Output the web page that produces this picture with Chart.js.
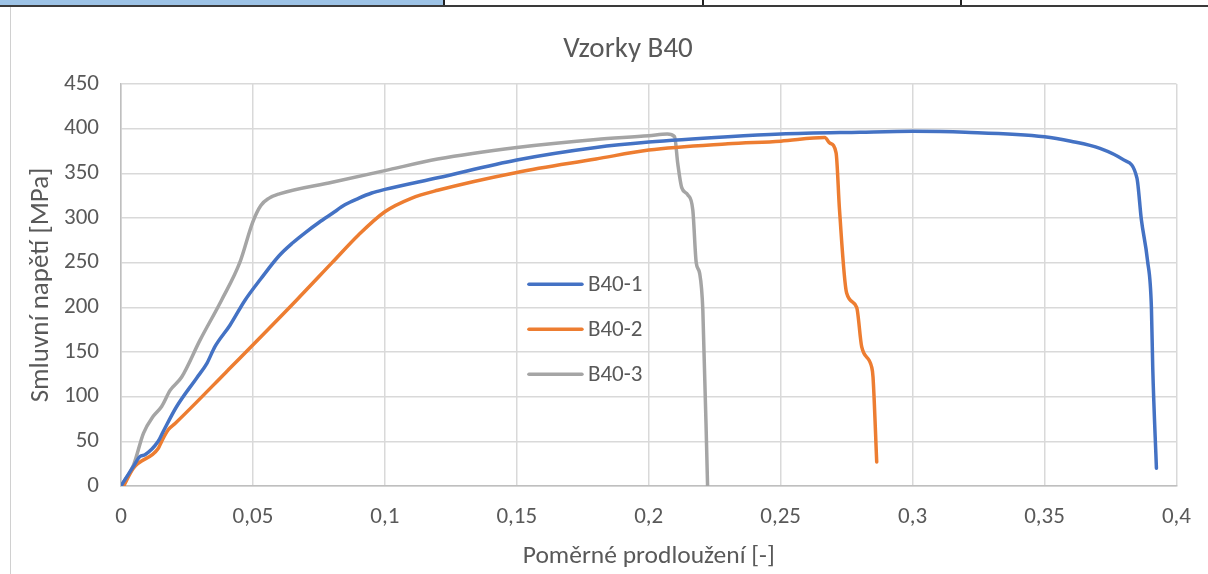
<!DOCTYPE html>
<html>
<head>
<meta charset="utf-8">
<script src="https://cdn.jsdelivr.net/npm/chart.js@4.4.1/dist/chart.umd.min.js"></script>
<style>
  html, body { margin: 0; padding: 0; background: #fff; overflow: hidden; }
  #wrap { position: relative; width: 1208px; height: 574px; }
  .strip { position: absolute; top: 0; height: 5px; }
  #blue { left: 0; width: 443px; background: #9DC3E6; }
  .vb { position: absolute; top: 0; width: 2px; height: 6px; background: #222; }
  #hline { position: absolute; left: 0; top: 5px; width: 1208px; height: 2px; background: #3a3a3a; }
  #frame { position: absolute; left: 10px; top: 7px; width: 1px; height: 567px; background: #D0D0D0; }
  canvas { position: absolute; left: 0; top: 0; }
</style>
</head>
<body>
<div id="wrap">
  <div class="strip" id="blue"></div>
  <div class="vb" style="left:443px"></div>
  <div class="vb" style="left:702px"></div>
  <div class="vb" style="left:960px"></div>
  <div id="hline"></div>
  <div id="frame"></div>
  <canvas id="c" width="1208" height="574"></canvas>
</div>
<script>
const TITLE = 'Vzorky B40';
const X_TITLE = 'Poměrné prodloužení [-]';
const Y_TITLE = 'Smluvní napětí [MPa]';
const SERIES_NAMES = ['B40-1', 'B40-2', 'B40-3'];
const X_TICKS = ['0', '0,05', '0,1', '0,15', '0,2', '0,25', '0,3', '0,35', '0,4'];
const Y_TICKS = ['0', '50', '100', '150', '200', '250', '300', '350', '400', '450'];

const X1 = [0, 0.0047, 0.0072, 0.0091, 0.0141, 0.016, 0.0211, 0.0287, 0.0325, 0.0356, 0.0413, 0.047, 0.053, 0.06, 0.065, 0.07, 0.075, 0.08, 0.085, 0.09, 0.095, 0.1, 0.12, 0.15, 0.18, 0.2, 0.23, 0.25, 0.28, 0.3, 0.32, 0.35, 0.36, 0.371, 0.38, 0.385, 0.3867, 0.389, 0.3905, 0.391, 0.3924];
const Y1 = [0, 22, 33, 35, 50, 61, 89, 121, 137, 156, 180, 208, 232, 258, 272, 284, 295, 305, 315, 322, 328, 332, 345, 365, 379, 385, 391, 394, 396, 397, 396, 391, 386, 378, 365, 345, 298, 253, 200, 133, 20];

const X2 = [0.001, 0.0047, 0.0141, 0.0154, 0.0179, 0.0205, 0.04, 0.0665, 0.08, 0.09, 0.1, 0.11, 0.12, 0.15, 0.18, 0.2, 0.23, 0.25, 0.2667, 0.2686, 0.271, 0.2723, 0.275, 0.2788, 0.2807, 0.2845, 0.285, 0.2864];
const Y2 = [0, 20, 42, 50, 63, 70, 128, 208, 250, 281, 307, 322, 331, 351, 366, 376, 383, 386, 390, 384, 373, 309, 216, 200, 156, 133, 122, 27];

const X3 = [0, 0.0047, 0.0085, 0.0122, 0.0154, 0.0186, 0.023, 0.0299, 0.0381, 0.045, 0.05, 0.053, 0.056, 0.06, 0.08, 0.1, 0.12, 0.15, 0.18, 0.2, 0.207, 0.2098, 0.211, 0.2125, 0.2148, 0.2167, 0.218, 0.2193, 0.2205, 0.2223];
const Y3 = [0, 23, 59, 78, 89, 107, 122, 163, 208, 250, 296, 314, 322, 327, 340, 353, 366, 379, 388, 392, 394, 391, 361, 334, 326, 309, 250, 238, 197, 0];

const COLORS = ['#4472C4', '#ED7D31', '#A5A5A5'];
const FONT = "Carlito, Calibri, Lato, 'Noto Sans', sans-serif";
const TEXT = '#595959';

function pts(xs, ys) { return xs.map((x, i) => ({ x: x, y: ys[i] })); }

const ds = [pts(X1, Y1), pts(X2, Y2), pts(X3, Y3)].map((d, i) => ({
  label: SERIES_NAMES[i],
  data: d,
  borderColor: COLORS[i],
  backgroundColor: COLORS[i],
  borderWidth: 3.5,
  pointRadius: 0,
  cubicInterpolationMode: 'monotone',
  borderJoinStyle: 'round',
  borderCapStyle: 'round',
  fill: false
}));

const overlay = {
  id: 'overlay',
  afterDraw(chart) {
    const ctx = chart.ctx;
    const a = chart.chartArea;
    ctx.save();
    // title
    ctx.fillStyle = TEXT;
    ctx.font = '29px ' + FONT;
    ctx.textAlign = 'center';
    ctx.textBaseline = 'middle';
    ctx.fillText(TITLE, 628, 50);
    // legend
    const lx = a.left + (a.right - a.left) * 0.3865;
    const ly0 = a.top + (a.bottom - a.top) * 0.498;
    const gap = 45;
    ctx.font = '23px ' + FONT;
    ctx.textAlign = 'left';
    chart.data.datasets.forEach((d, i) => {
      const y = ly0 + i * gap;
      ctx.strokeStyle = d.borderColor;
      ctx.lineWidth = 3.5;
      ctx.lineCap = 'round';
      ctx.beginPath();
      ctx.moveTo(lx, y);
      ctx.lineTo(lx + 53, y);
      ctx.stroke();
      ctx.fillStyle = TEXT;
      ctx.fillText(d.label, lx + 59, y + 1);
    });
    ctx.restore();
  }
};

new Chart(document.getElementById('c'), {
  type: 'line',
  data: { datasets: ds },
  plugins: [overlay],
  options: {
    responsive: false,
    animation: false,
    layout: { padding: { left: 21, right: 31, top: 84, bottom: 0 } },
    plugins: { legend: { display: false }, title: { display: false }, tooltip: { enabled: false } },
    scales: {
      x: {
        type: 'linear', min: 0, max: 0.4,
        afterBuildTicks(s) { s.ticks = X_TICKS.map((t, i) => ({ value: i * 0.05 })); },
        afterFit(s) { s.height = 88; },
        ticks: {
          callback: (v, i) => X_TICKS[i],
          color: TEXT, font: { family: FONT, size: 23 }, padding: 17, maxRotation: 0
        },
        grid: { color: '#D9D9D9', lineWidth: 1.5, drawTicks: false },
        border: { color: '#BFBFBF', width: 1.5 },
        title: { display: true, text: X_TITLE, color: TEXT, font: { family: FONT, size: 25.5 }, padding: { top: 2, bottom: 2 } }
      },
      y: {
        type: 'linear', min: 0, max: 450,
        afterBuildTicks(s) { s.ticks = Y_TICKS.map((t, i) => ({ value: i * 50 })); },
        afterFit(s) { s.width = 100; },
        ticks: {
          callback: (v, i) => Y_TICKS[i],
          color: TEXT, font: { family: FONT, size: 23 }, padding: 22
        },
        grid: { color: '#D9D9D9', lineWidth: 1.5, drawTicks: false },
        border: { color: '#BFBFBF', width: 1.5 },
        title: { display: true, text: Y_TITLE, color: TEXT, font: { family: FONT, size: 27 }, padding: { top: 4, bottom: 4 } }
      }
    }
  }
});
</script>
</body>
</html>
